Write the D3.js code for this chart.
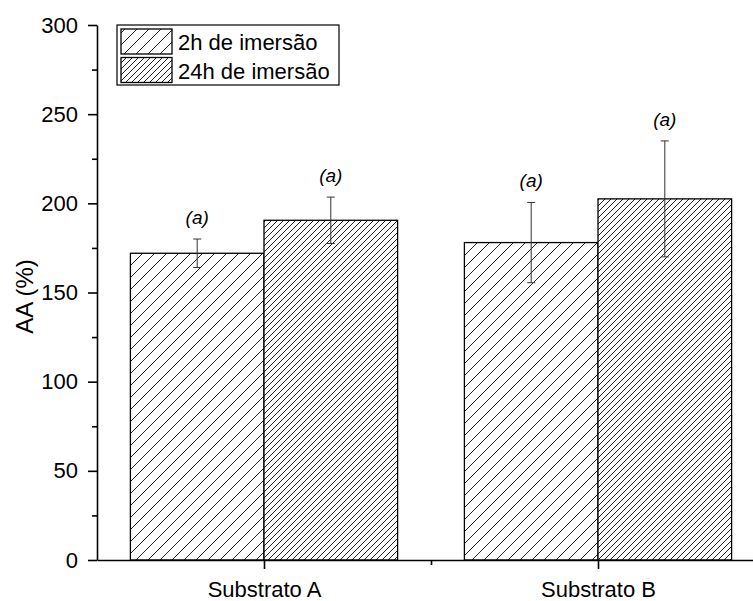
<!DOCTYPE html>
<html>
<head>
<meta charset="utf-8">
<script src="https://cdn.jsdelivr.net/npm/d3@7"></script>
<style>
  body { margin: 0; background: #fff; }
  svg text { font-family: "Liberation Sans", Arial, sans-serif; }
</style>
</head>
<body>
<svg id="chart" width="753" height="601"></svg>
<script>
// data
var categories = ["Substrato A", "Substrato B"];
var series = ["2h de imersão", "24h de imersão"];
var means2h = [172, 178];
var errs2h = [8, 22.5];
var means24h = [190.5, 202.5];
var errs24h = [13, 32.5];
var letters2h = ["(a)", "(a)"];
var letters24h = ["(a)", "(a)"];
var yTicks = [0, 50, 100, 150, 200, 250, 300];
var yMinor = [25, 75, 125, 175, 225, 275];

var W = 753, H = 601;
var margin = { left: 97, top: 25, bottom: 41 };

var svg = d3.select("#chart");

// hatch patterns "/" drawn straight in the tile, userspace so bars and legend match
var defs = svg.append("defs");
function hatch(id, g) {
  var p = defs.append("pattern")
    .attr("id", id)
    .attr("patternUnits", "userSpaceOnUse")
    .attr("width", g).attr("height", g);
  p.append("rect").attr("width", g).attr("height", g).attr("fill", "#fff");
  p.append("path")
    .attr("d", "M0," + g + "L" + g + ",0M-2,2L2,-2M" + (g - 2) + "," + (g + 2) + "L" + (g + 2) + "," + (g - 2))
    .attr("stroke", "#222").attr("stroke-width", 1);
}
hatch("h2", 12);
hatch("h24", 6);
var fills = ["url(#h2)", "url(#h24)"];

// x: category index 1..n, range 0.5 .. n+0.5 (origin style)
var x = d3.scaleLinear().domain([0.5, 2.5]).range([margin.left, margin.left + 668]);
var y = d3.scaleLinear().domain([0, 300]).range([H - margin.bottom, margin.top]);
var barW = 0.4;

var rows = [];
categories.forEach(function (c, i) {
  rows.push({ cat: i + 1, s: 0, v: means2h[i], e: errs2h[i], lab: letters2h[i] });
  rows.push({ cat: i + 1, s: 1, v: means24h[i], e: errs24h[i], lab: letters24h[i] });
});
function x0(d) { return d.s === 0 ? x(d.cat - barW) : x(d.cat); }
function xc(d) { return x0(d) + (x(barW) - x(0)) / 2; }

// bars
svg.selectAll("rect.bar")
  .data(rows)
  .enter()
  .append("rect")
  .attr("class", "bar")
  .attr("x", x0)
  .attr("y", function (d) { return y(d.v); })
  .attr("width", x(barW) - x(0))
  .attr("height", function (d) { return y(0) - y(d.v); })
  .attr("fill", function (d) { return fills[d.s]; })
  .attr("stroke", "#000")
  .attr("stroke-width", 1.3);

// error bars
var eb = svg.selectAll("g.err").data(rows).enter().append("g").attr("class", "err")
  .attr("stroke", "#333").attr("stroke-width", 1);
eb.append("line")
  .attr("x1", xc).attr("x2", xc)
  .attr("y1", function (d) { return y(d.v - d.e); })
  .attr("y2", function (d) { return y(d.v + d.e); });
eb.append("line")
  .attr("x1", function (d) { return xc(d) - 4; }).attr("x2", function (d) { return xc(d) + 4; })
  .attr("y1", function (d) { return y(d.v + d.e); })
  .attr("y2", function (d) { return y(d.v + d.e); });
eb.append("line")
  .attr("x1", function (d) { return xc(d) - 4; }).attr("x2", function (d) { return xc(d) + 4; })
  .attr("y1", function (d) { return y(d.v - d.e); })
  .attr("y2", function (d) { return y(d.v - d.e); });

// significance letters
svg.selectAll("text.let")
  .data(rows)
  .enter()
  .append("text")
  .attr("class", "let")
  .attr("x", xc)
  .attr("y", function (d) { return y(d.v + d.e) - 15; })
  .attr("text-anchor", "middle")
  .attr("font-style", "italic")
  .attr("font-size", 19)
  .text(function (d) { return d.lab; });

// y axis
var yAxis = d3.axisLeft(y).tickValues(yTicks).tickSize(9).tickSizeOuter(0).tickPadding(10);
var gy = svg.append("g").attr("transform", "translate(" + margin.left + ",0)").call(yAxis);
gy.selectAll("text").attr("font-size", 22).attr("font-family", "Liberation Sans, Arial, sans-serif").attr("fill", "#000");
gy.select(".domain").attr("stroke-width", 1.6);
gy.selectAll(".tick line").attr("stroke-width", 1.6);
svg.append("g").attr("transform", "translate(" + margin.left + ",0)")
  .call(d3.axisLeft(y).tickValues(yMinor).tickSize(5).tickSizeOuter(0).tickFormat(""))
  .call(function (g) { g.select(".domain").remove(); g.selectAll("line").attr("stroke-width", 1.6); });

// x axis
var xAxis = d3.axisBottom(x).tickValues([1, 2]).tickSize(9).tickSizeOuter(0).tickPadding(12)
  .tickFormat(function (d) { return categories[d - 1]; });
var gx = svg.append("g").attr("transform", "translate(0," + y(0) + ")").call(xAxis);
gx.selectAll("text").attr("font-size", 22).attr("font-family", "Liberation Sans, Arial, sans-serif").attr("fill", "#000");
gx.select(".domain").attr("stroke-width", 1.6);
gx.selectAll(".tick line").attr("stroke-width", 1.6);
svg.append("g").attr("transform", "translate(0," + y(0) + ")")
  .call(d3.axisBottom(x).tickValues([1.5]).tickSize(5).tickSizeOuter(0).tickFormat(""))
  .call(function (g) { g.select(".domain").remove(); g.selectAll("line").attr("stroke-width", 1.6); });

// y title
svg.append("text")
  .attr("transform", "translate(33," + ((y(0) + y(300)) / 2 + 4) + ") rotate(-90)")
  .attr("text-anchor", "middle")
  .attr("font-size", 24)
  .text("AA (%)");

// legend
var lg = svg.append("g").attr("transform", "translate(117,25)");
lg.append("rect").attr("width", 222).attr("height", 60)
  .attr("fill", "#fff").attr("stroke", "#000").attr("stroke-width", 1.2);
series.forEach(function (s, i) {
  lg.append("rect")
    .attr("x", 4).attr("y", 4 + i * 28.5)
    .attr("width", 51).attr("height", 25)
    .attr("fill", fills[i]).attr("stroke", "#000").attr("stroke-width", 1.3);
  lg.append("text")
    .attr("x", 61).attr("y", 25 + i * 28.5)
    .attr("font-size", 22)
    .text(s);
});
</script>
</body>
</html>
